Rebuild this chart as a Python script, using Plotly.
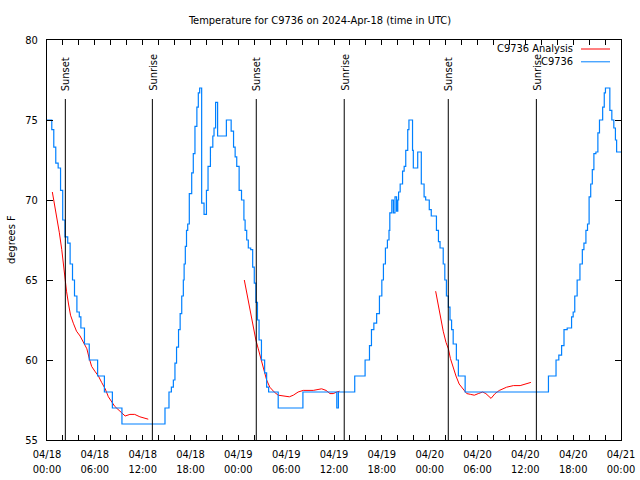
import pandas as pd
import plotly.graph_objects as go

BASE = pd.Timestamp("2024-04-18 00:00")

# Observed temperature (C9736): hours since 04/18 00:00 UTC, degrees F
obs_hours = [0.0, 0.46, 0.6, 0.85, 1.1, 1.4, 1.7, 1.97, 2.25, 2.6, 2.9, 3.2, 3.45, 3.75, 4.05, 4.25,
             4.7, 5.3, 6.35, 7.2, 8.2, 9.4, 14.8, 15.3, 15.6, 15.85, 16.05, 16.25, 16.5, 16.7, 16.9,
             17.1, 17.2, 17.35, 17.5, 17.65, 17.85, 18.15, 18.35, 18.56, 18.8, 18.98, 19.15, 19.4,
             19.7, 20.0, 20.2, 20.5, 20.8, 20.95, 21.15, 21.4, 22.5, 23.1, 23.4, 23.6, 23.8, 24.1,
             24.4, 24.7, 24.85, 25.05, 25.25, 25.55, 25.8, 26.0, 26.2, 26.4, 26.6, 26.9, 27.3, 27.55,
             27.8, 29.0, 32.1, 36.35, 36.55, 38.6, 39.9, 40.45, 40.7, 41.0, 41.35, 41.7, 42.0, 42.2,
             42.45, 42.7, 42.9, 43.0, 43.25, 43.45, 43.65, 43.85, 44.0, 44.1, 44.3, 44.6, 44.8, 45.0,
             45.25, 45.4, 45.85, 45.95, 46.5, 46.95, 47.3, 47.5, 47.95, 48.2, 48.85, 49.1, 49.3,
             49.7, 49.9, 50.1, 50.35, 50.55, 50.75, 50.95, 51.35, 51.6, 52.45, 62.9, 63.85, 64.2,
             64.55, 64.85, 65.25, 65.8, 66.0, 66.2, 66.5, 66.85, 67.15, 67.35, 67.6, 67.8, 68.0,
             68.2, 68.4, 68.6, 68.85, 69.1, 69.3, 69.7, 69.9, 70.05, 70.6, 70.85, 71.1, 71.3, 71.45,
             72.0]
obs_temps = [75.0, 75.0, 74.4, 73.3, 72.3, 72.0, 70.6, 68.75, 67.7, 67.3, 66.0, 65.0, 64.0, 63.0, 62.7, 62.0,
             61.0, 60.0, 59.0, 58.0, 57.0, 56.0, 57.0, 58.0, 58.3, 58.75, 59.8, 60.8, 61.9, 62.9, 64.0,
             65.0, 66.0, 67.1, 68.1, 68.5, 70.4, 71.7, 72.9, 74.6, 75.8, 76.7, 77.0, 69.8,
             69.1, 70.6, 72.1, 73.3, 74.0, 74.5, 76.1, 74.0, 75.0, 74.3, 73.3, 72.7, 72.1, 70.6,
             70.0, 68.75, 68.1, 67.5, 67.0, 66.9, 65.8, 64.8, 63.6, 62.5, 61.25, 60.0, 59.2, 58.3,
             58.0, 57.0, 58.0, 57.0, 58.0, 59.0, 60.0, 60.9, 61.9, 62.3, 62.9, 64.0, 65.0, 66.0,
             67.0, 67.5, 68.1, 69.2, 70.0, 69.2, 70.2, 69.3, 70.0, 70.5, 71.0, 71.8, 72.1, 73.1,
             74.4, 75.0, 73.1, 72.0, 73.0, 71.0, 70.2, 70.0, 69.4, 69.0, 68.1, 67.4, 67.0,
             66.0, 65.0, 64.0, 63.3, 62.5, 61.9, 61.0, 60.0, 59.0, 58.0, 59.0, 60.0, 60.3,
             60.9, 61.9, 62.0, 62.7, 63.0, 64.0, 65.0, 66.0, 66.9, 67.3, 68.1, 68.5, 70.2,
             71.0, 71.9, 72.9, 73.0, 74.2, 75.0, 75.8, 76.7, 77.0, 75.6, 75.0, 74.5, 73.75, 73.0,
             73.0]

# Analysis (three overnight segments)
ana1_hours = [0.67, 1.0, 1.3, 1.55, 1.85, 2.05, 2.25, 2.45, 2.7, 2.95, 3.3, 3.7, 4.15, 4.55, 5.0, 5.3,
              5.6, 6.0, 6.45, 6.85, 7.3, 7.7, 8.1, 8.5, 9.15, 9.8, 10.4, 11.0, 11.65, 12.3, 12.7]
ana1_temps = [70.5, 69.6, 68.75, 67.95, 66.9, 66.0, 65.0, 64.3, 63.5, 62.8, 62.3, 61.8, 61.5, 61.1, 60.7, 60.1,
              59.6, 59.3, 59.0, 58.6, 58.2, 57.7, 57.4, 57.1, 56.8, 56.5, 56.6, 56.6, 56.45, 56.35, 56.3]
ana2_hours = [24.75, 25.05, 25.35, 25.7, 25.95, 26.2, 26.5, 26.8, 27.1, 27.55, 27.95, 28.5, 29.0, 29.65,
              30.4, 30.9, 31.5, 32.15, 33.4, 34.45, 35.0, 35.5, 35.9, 36.35, 36.7]
ana2_temps = [65.0, 64.2, 63.3, 62.5, 61.9, 61.25, 60.7, 60.1, 59.5, 58.75, 58.3, 58.0, 57.8, 57.75,
              57.7, 57.8, 58.0, 58.1, 58.1, 58.2, 58.1, 57.9, 57.9, 58.0, 58.05]
ana3_hours = [48.75, 49.1, 49.4, 49.7, 50.05, 50.35, 50.6, 50.95, 51.3, 51.7, 52.15, 52.65, 53.15, 53.6,
              54.1, 54.65, 55.05, 55.7, 56.2, 56.75, 57.65, 58.5, 59.35, 59.95, 60.7]
ana3_temps = [64.3, 63.3, 62.5, 61.8, 61.1, 60.7, 60.1, 59.5, 59.0, 58.5, 58.2, 57.9, 57.85, 57.8,
              57.9, 58.0, 57.9, 57.6, 57.9, 58.1, 58.3, 58.4, 58.4, 58.5, 58.6]

sun_times = ["2024-04-18 02:18", "2024-04-18 13:13", "2024-04-19 02:15",
             "2024-04-19 13:17", "2024-04-20 02:20", "2024-04-20 13:23"]
sun_labels = ["Sunset", "Sunrise", "Sunset", "Sunrise", "Sunset", "Sunrise"]

y_ticks = [55, 60, 65, 70, 75, 80]

FONT = "Liberation Sans Narrow, DejaVu Sans Condensed, Liberation Sans, sans-serif"
FS = 11


def to_time(hours):
    return [None if h is None else BASE + pd.Timedelta(hours=h) for h in hours]


ana_h, ana_t = [], []
for hh, tt in [(ana1_hours, ana1_temps), (ana2_hours, ana2_temps), (ana3_hours, ana3_temps)]:
    ana_h += hh + [None]
    ana_t += tt + [None]

fig = go.Figure()
fig.add_trace(go.Scatter(x=to_time(ana_h), y=ana_t, mode="lines", name="C9736 Analysis",
                         line=dict(color="#ff0000", width=1), connectgaps=False))
fig.add_trace(go.Scatter(x=to_time(obs_hours), y=obs_temps, mode="lines", name="C9736",
                         line=dict(color="#0080ff", width=1.2, shape="hv")))

for t, lab in zip(sun_times, sun_labels):
    fig.add_shape(type="line", x0=t, x1=t, xref="x", yref="paper", y0=0, y1=0.8525,
                  line=dict(color="black", width=1))
    fig.add_annotation(x=t, y=0.8675, xref="x", yref="paper", text=lab, textangle=-90,
                       showarrow=False, xanchor="center", yanchor="bottom", xshift=1,
                       font=dict(family=FONT, size=FS, color="black"))

# x ticks every 2 h, labels every 6 h
tickvals, ticktext = [], []
for h in range(0, 73, 2):
    ts = BASE + pd.Timedelta(hours=h)
    tickvals.append(ts)
    ticktext.append(ts.strftime("%m/%d<br>%H:%M") if h % 6 == 0 else "")

# gnuplot-style key (text then line sample)
legend_rows = [("C9736 Analysis", "#ff0000", 0.9775), ("C9736", "#0080ff", 0.9455)]
for name, col, yy in legend_rows:
    fig.add_annotation(x=(575 - 47) / 574, y=yy, xref="paper", yref="paper", text=name,
                       showarrow=False, xanchor="right", yanchor="middle",
                       font=dict(family=FONT, size=FS, color="black"))
    fig.add_shape(type="line", xref="paper", yref="paper", x0=(581 - 47) / 574, x1=(610 - 47) / 574,
                  y0=yy, y1=yy, line=dict(color=col, width=1))

fig.add_annotation(x=-36 / 574, y=0.5, xref="paper", yref="paper", text="degrees F",
                   textangle=-90, showarrow=False, xanchor="center", yanchor="middle",
                   font=dict(family=FONT, size=FS, color="black"))

fig.update_layout(
    width=640, height=480,
    margin=dict(l=47, r=19, t=40, b=40, autoexpand=False),
    paper_bgcolor="white", plot_bgcolor="white",
    showlegend=False,
    title=dict(text="Temperature for C9736 on 2024-Apr-18 (time in UTC)", x=0.5, xanchor="center",
               y=1 - 20 / 480, yanchor="middle", font=dict(family=FONT, size=FS, color="black")),
    font=dict(family=FONT, size=FS, color="black"),
)
fig.update_xaxes(type="date", range=[BASE, BASE + pd.Timedelta(hours=72)],
                 tickmode="array", tickvals=tickvals, ticktext=ticktext,
                 ticks="inside", ticklen=5, tickcolor="black", mirror="allticks",
                 showline=True, linecolor="black", linewidth=1, showgrid=False, zeroline=False,
                 tickangle=0, ticklabelstandoff=4, automargin=False)
fig.update_yaxes(range=[55, 80], tickmode="array", tickvals=y_ticks,
                 ticks="inside", ticklen=6, tickcolor="black", mirror="allticks",
                 showline=True, linecolor="black", linewidth=1, showgrid=False, zeroline=False,
                 ticklabelstandoff=6, automargin=False)

fig.write_html("out.html", config={"displayModeBar": False},
               post_script="document.body.style.margin='0px';")
